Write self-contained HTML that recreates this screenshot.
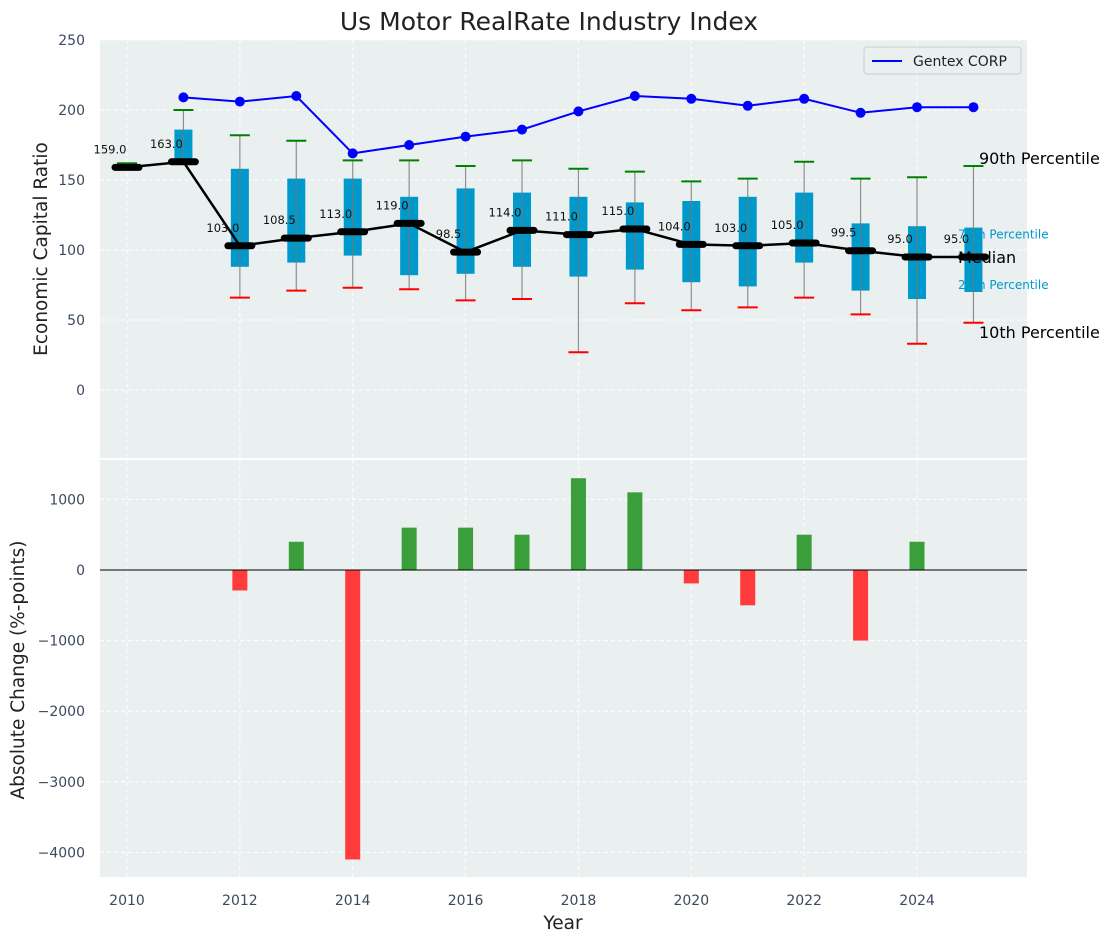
<!DOCTYPE html>
<html><head><meta charset="utf-8"><style>
body{margin:0;background:#fff;}
svg{display:block;font-family:"DejaVu Sans","Liberation Sans",sans-serif;}
</style></head><body>
<svg id="chart" width="1114" height="942">
<text x="549" y="30" font-size="25" fill="#222" text-anchor="middle">Us Motor RealRate Industry Index</text>
<rect x="100" y="40" width="927" height="418" fill="#eaeff0"/>
<rect x="100" y="460" width="927" height="417" fill="#eaeff0"/>
<g id="topg"></g><g id="botg"></g>
<text transform="translate(47,249) rotate(-90)" font-size="18.5" fill="#222" text-anchor="middle">Economic Capital Ratio</text>
<text transform="translate(24,670) rotate(-90)" font-size="18.5" fill="#222" text-anchor="middle">Absolute Change (%-points)</text>
<text x="563" y="929" font-size="18.5" fill="#222" text-anchor="middle">Year</text>
<g>
<rect x="864" y="47" width="157" height="27" fill="#eaeff0" stroke="#ccc" rx="3"/>
<line x1="872" y1="61" x2="902" y2="61" stroke="blue" stroke-width="2"/>
<text x="913" y="66" font-size="14" fill="#222">Gentex CORP</text>
</g>
</svg>
<script>
const years=[2010,2011,2012,2013,2014,2015,2016,2017,2018,2019,2020,2021,2022,2023,2024,2025];
const medians=[159,163,103,108.5,113,119,98.5,114,111,115,104,103,105,99.5,95,95];
const p90=[162,200,182,178,164,164,160,164,158,156,149,151,163,151,152,160];
const q3=[159,186,158,151,151,138,144,141,138,134,135,138,141,119,117,116];
const q1=[159,163,88,91,96,82,83,88,81,86,77,74,91,71,65,70];
const p10=[159,163,66,71,73,72,64,65,27,62,57,59,66,54,33,48];
const gentexYears=[2011,2012,2013,2014,2015,2016,2017,2018,2019,2020,2021,2022,2023,2024,2025];
const gentex=[209,206,210,169,175,181,186,199,210,208,203,208,198,202,202];
const changeYears=[2012,2013,2014,2015,2016,2017,2018,2019,2020,2021,2022,2023,2024];
const changes=[-290,400,-4100,600,600,500,1300,1100,-190,-500,500,-1000,400];
const topTicks=[0,50,100,150,200,250];
const botTicks=[-4000,-3000,-2000,-1000,0,1000];
const xTicks=[2010,2012,2014,2016,2018,2020,2022,2024];

const NS="http://www.w3.org/2000/svg";
const X=v=>127+(v-2010)*56.43;
const Y=v=>390-v*1.4;
const Y2=v=>570-v*0.0706;
function mk(p,t,a){const e=document.createElementNS(NS,t);for(const k in a)e.setAttribute(k,a[k]);p.appendChild(e);return e;}
const topG=document.getElementById('topg'),botG=document.getElementById('botg'),svgEl=document.getElementById('chart');
xTicks.forEach(t=>{
 let g=mk(topG,'line',{x1:X(t),x2:X(t),y1:40,y2:458,stroke:'#fff','stroke-dasharray':'4,3'});
 
 
 let g2=mk(botG,'line',{x1:X(t),x2:X(t),y1:460,y2:877,stroke:'#fff','stroke-dasharray':'4,3'});
 
 
 let l=mk(svgEl,'text',{x:X(t),y:905,'font-size':14,fill:'#3b4a5e','text-anchor':'middle'});l.textContent=t;
 
 
});
topTicks.forEach(t=>{
 let g=mk(topG,'line',{x1:100,x2:1027,y1:Y(t),y2:Y(t),stroke:'#fff','stroke-dasharray':'4,3'});
 
 
 let l=mk(svgEl,'text',{x:85,y:Y(t)+5,'font-size':14,fill:'#3b4a5e','text-anchor':'end'});l.textContent=t;
 
 
});
botTicks.forEach(t=>{
 let g=mk(botG,'line',{x1:100,x2:1027,y1:Y2(t),y2:Y2(t),stroke:'#fff','stroke-dasharray':'4,3'});
 
 
 let l=mk(svgEl,'text',{x:85,y:Y2(t)+5,'font-size':14,fill:'#3b4a5e','text-anchor':'end'});l.textContent=t<0?'\u2212'+(-t):t;
 
 
});
years.forEach((yr,i)=>{
 const x=X(yr);
 if(q3[i]>q1[i]){let b=mk(topG,'rect',{x:x-9,y:Y(q3[i]),width:18,height:Y(q1[i])-Y(q3[i]),fill:'#0099cc'});
 
 }
 let w=mk(topG,'line',{x1:x,x2:x,y1:Y(p90[i]),y2:Y(p10[i]),stroke:'#777','stroke-width':1.2,opacity:0.8});
 
 
 let c1=mk(topG,'line',{x1:x-10,x2:x+10,y1:Y(p90[i]),y2:Y(p90[i]),stroke:'green','stroke-width':2});
 
 
 if(p10[i]<q1[i]){let c2=mk(topG,'line',{x1:x-10,x2:x+10,y1:Y(p10[i]),y2:Y(p10[i]),stroke:'red','stroke-width':2});
 
 }
});
let mp=mk(topG,'polyline',{points:years.map((y,i)=>X(y)+','+Y(medians[i])).join(' '),fill:'none',stroke:'#000','stroke-width':2.5});


years.forEach((yr,i)=>{
 const x=X(yr),y=Y(medians[i]);
 let m=mk(topG,'line',{x1:x-12,x2:x+12,y1:y,y2:y,stroke:'#000','stroke-width':7,'stroke-linecap':'round'});
 
 
 let t=mk(topG,'text',{x:x-17,y:y-14,'font-size':11.5,fill:'#111','text-anchor':'middle'});t.textContent=medians[i].toFixed(1);
 
 
});
let gp=mk(topG,'polyline',{points:gentexYears.map((y,i)=>X(y)+','+Y(gentex[i])).join(' '),fill:'none',stroke:'blue','stroke-width':2});


gentexYears.forEach((yr,i)=>{let c=mk(topG,'circle',{cx:X(yr),cy:Y(gentex[i]),r:5,fill:'blue'});
 
 });
[['90th Percentile',p90[15],16,'#000',979,-2],['10th Percentile',p10[15],16,'#000',979,15],['75th Percentile',q3[15],12,'#0099cc',958,11],['25th Percentile',q1[15],12,'#0099cc',958,-3],['Median',medians[15],16,'#000',958,6]].forEach(a=>{
 let t=mk(topG,'text',{x:a[4],y:Y(a[1])+a[5],'font-size':a[2],fill:a[3]});t.textContent=a[0];
 
 
});
changeYears.forEach((yr,i)=>{
 const v=changes[i],y0=Y2(0),y1=Y2(v);
 let b=mk(botG,'rect',{x:X(yr)-7.5,y:Math.min(y0,y1),width:15,height:Math.abs(y1-y0),fill:v>=0?'#3a9e3a':'#ff3b3b'});
 
 
});
let z=mk(botG,'line',{x1:100,x2:1027,y1:Y2(0),y2:Y2(0),stroke:'#000','stroke-width':1});


</script>
</body></html>
